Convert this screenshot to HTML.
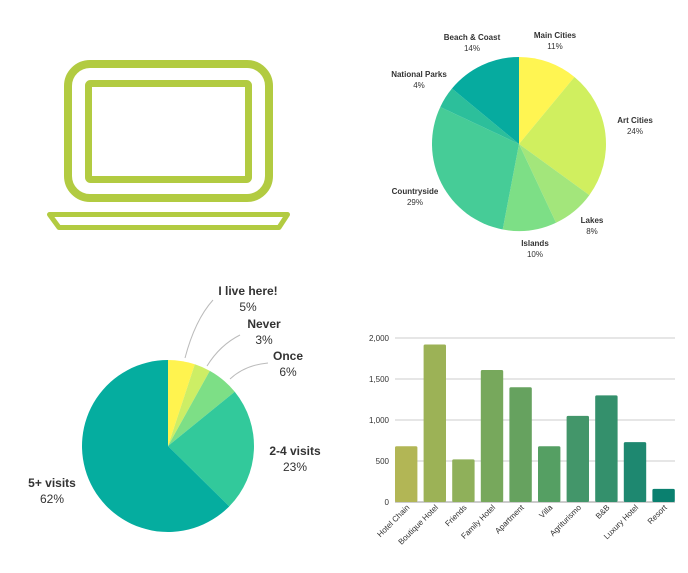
<!DOCTYPE html>
<html><head><meta charset="utf-8"><style>
html,body{margin:0;padding:0;background:#fff;width:688px;height:573px;overflow:hidden}
text{font-family:"Liberation Sans",sans-serif;fill:#333}
</style></head><body>
<svg id="s" width="688" height="573" viewBox="0 0 688 573" xmlns="http://www.w3.org/2000/svg">
<!-- laptop -->
<rect x="68" y="64" width="201" height="134" rx="22" fill="none" stroke="#b2cb41" stroke-width="8"/>
<rect x="88.5" y="83.5" width="160" height="96" rx="2" fill="none" stroke="#b2cb41" stroke-width="7"/>
<polygon points="49.5,214.5 287.5,214.5 279,227.5 59,227.5" fill="none" stroke="#b2cb41" stroke-width="5" stroke-linejoin="round"/>
<g id="p1"></g><g id="p2"></g>
<!-- top pie labels -->
<g font-size="8" text-anchor="middle">
<text x="472" y="40" font-weight="bold">Beach &amp; Coast</text><text x="472" y="51">14%</text>
<text x="555" y="38" font-weight="bold">Main Cities</text><text x="555" y="49">11%</text>
<text x="419" y="77" font-weight="bold">National Parks</text><text x="419" y="88">4%</text>
<text x="635" y="123" font-weight="bold">Art Cities</text><text x="635" y="134">24%</text>
<text x="415" y="194" font-weight="bold">Countryside</text><text x="415" y="205">29%</text>
<text x="592" y="223" font-weight="bold">Lakes</text><text x="592" y="234">8%</text>
<text x="535" y="246" font-weight="bold">Islands</text><text x="535" y="257">10%</text>
</g>
<!-- bottom pie labels -->
<g stroke="#bbb" fill="none" stroke-width="1">
<path d="M185,358 Q195,320 213,300"/>
<path d="M207,366 Q220,345 240,335"/>
<path d="M230,379 Q245,365 268,363"/>
</g>
<g font-size="12" text-anchor="middle">
<text x="248" y="295" font-weight="bold">I live here!</text><text x="248" y="311">5%</text>
<text x="264" y="328" font-weight="bold">Never</text><text x="264" y="344">3%</text>
<text x="288" y="360" font-weight="bold">Once</text><text x="288" y="376">6%</text>
<text x="295" y="455" font-weight="bold">2-4 visits</text><text x="295" y="471">23%</text>
<text x="52" y="487" font-weight="bold">5+ visits</text><text x="52" y="503">62%</text>
</g>
<g id="bars"></g>
</svg>
<script>
var NS="http://www.w3.org/2000/svg";
function pie(g,cx,cy,r,vals,cols){var a=0,t=vals.reduce((x,y)=>x+y,0),h="";
vals.forEach(function(v,i){var a2=a+v/t*2*Math.PI;
var x1=cx+r*Math.sin(a),y1=cy-r*Math.cos(a),x2=cx+r*Math.sin(a2),y2=cy-r*Math.cos(a2);
h+='<path d="M'+cx+','+cy+'L'+x1+','+y1+'A'+r+','+r+' 0 '+((a2-a)>Math.PI?1:0)+' 1 '+x2+','+y2+'Z" fill="'+cols[i]+'"/>';a=a2;});
document.getElementById(g).innerHTML=h;}
pie("p1",519,144,87,[11,24,8,10,29,4,14],["#fff552","#d0ef5f","#a3e67b","#7ddf86","#46cc97","#2cbf9b","#06ab9f"]);
pie("p2",168,446,86,[5,3,6,23,62],["#fff34f","#cdee65","#7ddf86","#32c99b","#05ad9f"]);
var h="";
[0,500,1000,1500,2000].forEach(function(v){var y=502-v*164/2000;
h+='<line x1="395" x2="675" y1="'+y+'" y2="'+y+'" stroke="'+(v?"#ccc":"#999")+'" stroke-width="1"/>';
h+='<text x="389" y="'+(y+3)+'" font-size="8" text-anchor="end">'+(v?v.toLocaleString("en-US"):"0")+'</text>';});
var names=["Hotel Chain","Boutique Hotel","Friends","Family Hotel","Apartment","Villa","Agriturismo","B&amp;B","Luxury Hotel","Resort"];
var vals=[680,1920,520,1610,1400,680,1050,1300,730,160];
var cols=["#b2b655","#9cb256","#8fb05a","#77a85c","#66a25f","#559f63","#43966a","#34906c","#1e8870","#0a806f"];
vals.forEach(function(v,i){var x=395+i*28.6,hh=v*164/2000;
h+='<rect x="'+x+'" y="'+(502-hh)+'" width="22.4" height="'+hh+'" rx="1.5" fill="'+cols[i]+'"/>';
var cx=x+15;h+='<text transform="translate('+cx+',508) rotate(-45)" font-size="8" text-anchor="end">'+names[i]+'</text>';});
document.getElementById("bars").innerHTML=h;
</script>
</body></html>
